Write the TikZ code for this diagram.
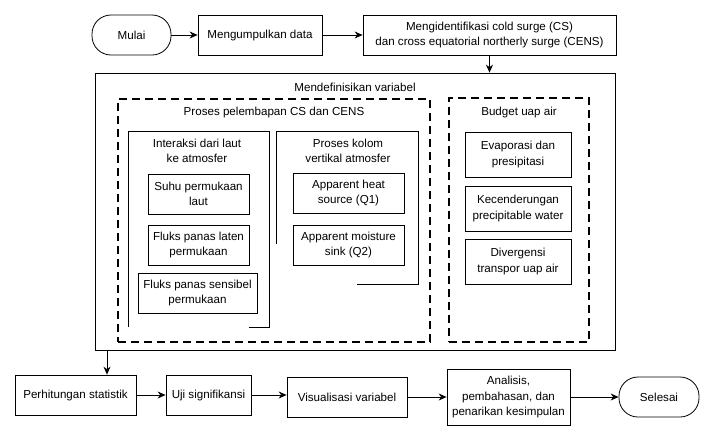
\documentclass[tikz,border=0pt]{standalone}
\usepackage{fontspec}
\setmainfont{Liberation Sans}
\usetikzlibrary{arrows.meta,positioning}

\begin{document}
\begin{tikzpicture}[
   x=1pt,y=-1pt,
   every node/.style={font=\fontsize{11.6}{15.5}\selectfont},
   box/.style={draw,rectangle,line width=0.8pt,inner sep=0pt,align=center,
               minimum height=40pt},
   term/.style={box,rounded corners=19pt},
   grpbox/.style={draw,rectangle,line width=1.6pt,dash pattern=on 8pt off 5pt,
                  inner sep=0pt},
   grpline/.style={line width=0.8pt},
   arr/.style={-{Stealth[length=8pt,width=7pt]},line width=0.8pt}
]
\useasboundingbox (0,0) rectangle (714,440);

% Top row
\node[term,minimum width=79pt] (mulai) at (131.5,35) {Mulai};
\node[box,minimum width=124pt] (kumpul) at (260,35) {Mengumpulkan data};
\node[box,minimum width=253pt] (identif) at (489.5,35)
   {Mengidentifikasi cold surge (CS)\\dan cross equatorial northerly surge (CENS)};

\draw[arr] (mulai) -- (kumpul);
\draw[arr] (kumpul) -- (identif);

% Mendefinisikan variabel
\node[draw,line width=0.8pt,minimum width=520pt,minimum height=277pt,inner sep=0pt]
   (defvar) at (355,211.5) {};
\node (defvarlbl) at (355,87) {Mendefinisikan variabel};
\draw[arr] (identif.south) -- (identif.south |- defvar.north);

% Proses pelembapan CS dan CENS
\node[grpbox,minimum width=312pt,minimum height=243pt] (lembap) at (274,220.5) {};
\node (lembaplbl) at (274,112) {Proses pelembapan CS dan CENS};

% Interaksi dari laut ke atmosfer
\draw[grpline] (249,327) -- (269,327) -- (269,131) -- (128,131) -- (128,327);
\node[align=center] (interlbl) at (197,151) {Interaksi dari laut\\ke atmosfer};
\node[box,minimum width=101pt] (suhu) at (198.5,194) {Suhu permukaan\\laut};
\node[box,minimum width=101pt] (laten) at (198.5,245) {Fluks panas laten\\permukaan};
\node[box,minimum width=119pt] (sensibel) at (197.5,293) {Fluks panas sensibel\\permukaan};

% Proses kolom vertikal atmosfer
\draw[grpline] (357,284) -- (418,284) -- (418,131) -- (276,131) -- (276,244);
\node[align=center] (kolomlbl) at (348,151) {Proses kolom\\vertikal atmosfer};
\node[box,minimum width=111pt] (heat) at (348.5,193) {Apparent heat\\source (Q1)};
\node[box,minimum width=111pt] (moist) at (348.5,245) {Apparent moisture\\sink (Q2)};

% Budget uap air
\node[grpbox,minimum width=140pt,minimum height=244pt] (budget) at (519,220) {};
\node (budgetlbl) at (519,112) {Budget uap air};
\node[box,minimum width=106pt,minimum height=45pt] (evap) at (518,154.5) {Evaporasi dan\\presipitasi};
\node[box,minimum width=106pt,minimum height=45pt] (tend) at (518,208.5) {Kecenderungan\\precipitable water};
\node[box,minimum width=106pt,minimum height=45pt] (diverg) at (518,261.5) {Divergensi\\transpor uap air};

% Bottom row
\node[box,minimum width=121pt] (hitung) at (75.5,395) {Perhitungan statistik};
\node[box,minimum width=85pt] (uji) at (208.5,395) {Uji signifikansi};
\node[box,minimum width=120pt] (visual) at (347,397) {Visualisasi variabel};
\node[box,minimum width=123pt,minimum height=56pt] (analisis) at (508.5,397)
   {Analisis,\\pembahasan, dan\\penarikan kesimpulan};
\node[term,minimum width=80pt] (selesai) at (659,397) {Selesai};

\coordinate (turun) at (107,350);
\draw[arr] (turun) -- (turun |- hitung.north);
\draw[arr] (hitung) -- (uji);
\draw[arr] (uji.east) -- (uji.east -| visual.west);
\draw[arr] (visual) -- (analisis);
\draw[arr] (analisis) -- (selesai);

\end{tikzpicture}
\end{document}
